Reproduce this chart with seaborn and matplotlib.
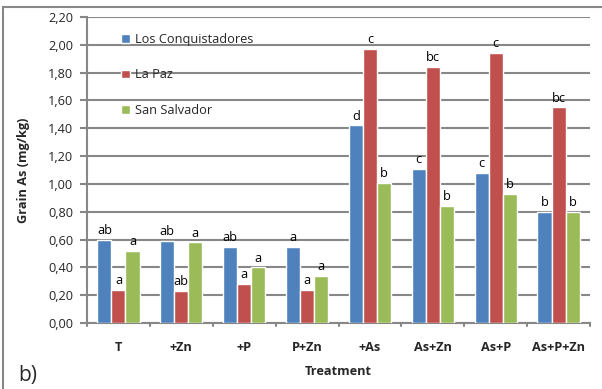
import matplotlib
matplotlib.use("Agg")
import matplotlib.pyplot as plt
import seaborn as sns
import pandas as pd
from matplotlib.patches import Rectangle

treatments = ["T", "+Zn", "+P", "P+Zn", "+As", "As+Zn", "As+P", "As+P+Zn"]
series_names = ["Los Conquistadores", "La Paz", "San Salvador"]
los_conquistadores = [0.60, 0.59, 0.55, 0.55, 1.42, 1.11, 1.08, 0.80]
la_paz = [0.24, 0.23, 0.28, 0.24, 1.97, 1.84, 1.94, 1.55]
san_salvador = [0.52, 0.58, 0.40, 0.34, 1.01, 0.84, 0.93, 0.80]
letters_lc = ["ab", "ab", "ab", "a", "d", "c", "c", "b"]
letters_lp = ["a", "ab", "a", "a", "c", "bc", "c", "bc"]
letters_ss = ["a", "a", "a", "a", "b", "b", "b", "b"]
y_ticks = [0.0, 0.2, 0.4, 0.6, 0.8, 1.0, 1.2, 1.4, 1.6, 1.8, 2.0, 2.2]

rows = []
for name, vals in zip(series_names, [los_conquistadores, la_paz, san_salvador]):
    for t, v in zip(treatments, vals):
        rows.append({"Treatment": t, "Site": name, "value": v})
df = pd.DataFrame(rows)

sns.set_style("white")
plt.rcParams["font.family"] = ["Open Sans", "DejaVu Sans"]
fs = 9.2

fig = plt.figure(figsize=(6.02, 3.89), dpi=100)
ax = fig.add_axes([87/602, 1-323/389, (590-87)/602, (323-17)/389])

colors = ["#4F81BD", "#C0504D", "#9BBB59"]
sns.barplot(data=df, x="Treatment", y="value", hue="Site", order=treatments,
            hue_order=series_names, palette=colors, width=0.67, ax=ax,
            errorbar=None, saturation=1, zorder=3)

for cont, labs in zip(ax.containers, [letters_lc, letters_lp, letters_ss]):
    ax.bar_label(cont, labels=labs, padding=2, fontsize=fs, color="black")

ax.set_ylim(0, 2.2)
ax.set_xlim(-0.5, 7.5)
ax.set_yticks(y_ticks)
ax.set_yticklabels([f"{v:.2f}".replace(".", ",") for v in y_ticks], fontsize=fs)
ax.yaxis.grid(True, color="#878787", linewidth=1.5, zorder=0)
ax.set_axisbelow(True)

ax.set_xticks([i for i in range(8)])
ax.set_xticklabels(treatments, fontsize=fs, fontweight="bold")
ax.tick_params(axis="x", length=0, pad=13)
ax.tick_params(axis="y", length=5, color="#878787", width=1.5, pad=5, direction="out", left=True)
for b in [x + 0.5 for x in range(-1, 8)]:
    ax.plot([b, b], [0, -0.025], color="#878787", lw=1.5, clip_on=False, transform=ax.transData)

for s in ["top", "right"]:
    ax.spines[s].set_visible(False)
for s in ["left", "bottom"]:
    ax.spines[s].set_color("#878787")
    ax.spines[s].set_linewidth(1.5)

ax.set_xlabel("Treatment", fontsize=fs, fontweight="bold", labelpad=8)
ax.set_ylabel("Grain As (mg/kg)", fontsize=fs, fontweight="bold", labelpad=13)

leg = ax.legend(loc="upper left", bbox_to_anchor=(0.045, 0.985), frameon=False,
                fontsize=fs, labelspacing=1.75, handlelength=0.7, handleheight=0.7,
                handletextpad=0.4)

fig.text(18/602, 3/389, "b)", fontsize=15, va="bottom", ha="left")
fig.patches.append(Rectangle((3/602, -0.1), 1, 1-7/389+0.1, transform=fig.transFigure,
                             fill=False, edgecolor="#878787", linewidth=1.5))

fig.savefig("out.png", dpi=100)
